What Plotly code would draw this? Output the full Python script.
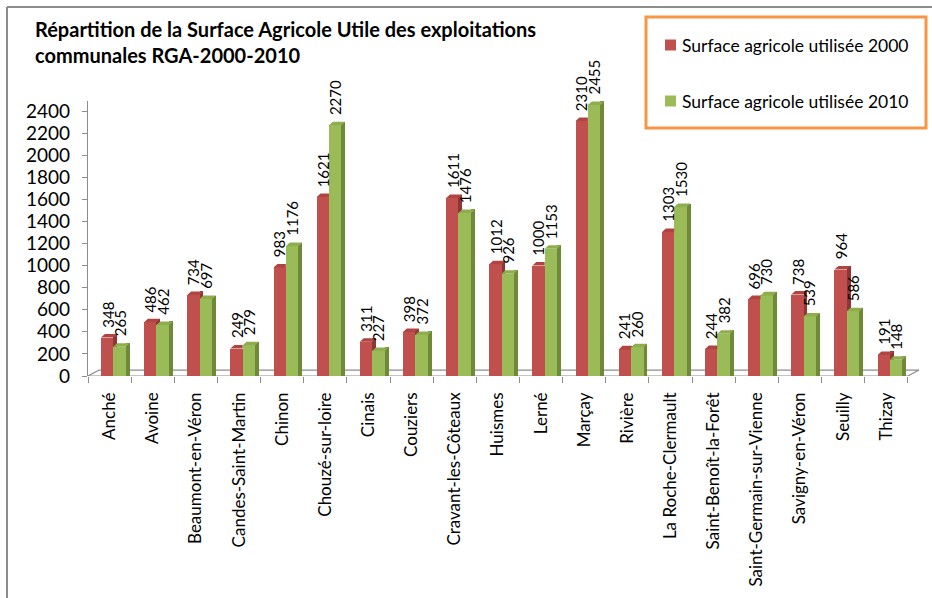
import plotly.graph_objects as go

# --- data -------------------------------------------------------------
communes = [
    "Anché", "Avoine", "Beaumont-en-Véron", "Candes-Saint-Martin", "Chinon",
    "Chouzé-sur-loire", "Cinais", "Couziers", "Cravant-les-Côteaux", "Huismes",
    "Lerné", "Marçay", "Rivière", "La Roche-Clermault", "Saint-Benoît-la-Forêt",
    "Saint-Germain-sur-Vienne", "Savigny-en-Véron", "Seuilly", "Thizay",
]
sau_2000 = [348, 486, 734, 249, 983, 1621, 311, 398, 1611, 1012,
            1000, 2310, 241, 1303, 244, 696, 738, 964, 191]
sau_2010 = [265, 462, 697, 279, 1176, 2270, 227, 372, 1476, 926,
            1153, 2455, 260, 1530, 382, 730, 539, 586, 148]
series_names = ["Surface agricole utilisée 2000", "Surface agricole utilisée 2010"]
title_lines = ["Répartition de la Surface Agricole Utile des exploitations",
               "communales RGA-2000-2010"]

# --- geometry / style ---------------------------------------------------
FIG_W, FIG_H = 932, 598
M_L, M_R, M_T, M_B = 88, 13, 101, 222
PLOT_W = FIG_W - M_L - M_R
PLOT_H = FIG_H - M_T - M_B
Y_MAX = 2490.6
X_MIN, X_MAX = -0.5, 18.76

FONT = "Lato, 'Open Sans', sans-serif"
RED, RED_SIDE, RED_TOP = "#C0504D", "#8E3633", "#B04441"
GRN, GRN_SIDE, GRN_TOP = "#9BBB59", "#6E8A38", "#8EAE4E"
AXIS_GREY = "#8C8C8C"

# bar layout within a category (in category units)
R0, R1, G1 = -0.20, 0.085, 0.375   # red front: R0..R1, green front: R1..G1
DX, DY = 0.09, 32                   # 3-D depth (x units, y units)
FLOOR_DX, FLOOR_DY = 0.26, 54

idx = list(range(len(communes)))


def px_x(px):
    return (px - M_L) / PLOT_W


def px_y(py):
    return (FIG_H - M_B - py) / PLOT_H


fig = go.Figure()

# side faces (drawn first so the next front covers them)
def side_bar(vals, x_left, color):
    return go.Bar(x=idx, y=[v + DY for v in vals], offset=x_left, width=DX,
                  marker=dict(color=color, line=dict(width=0)),
                  showlegend=False, hoverinfo="skip")


def front_bar(vals, x_left, w, color, name):
    return go.Bar(x=idx, y=vals, offset=x_left, width=w, name=name,
                  marker=dict(color=color, line=dict(width=0)),
                  showlegend=False)


fig.add_trace(side_bar(sau_2000, R1, RED_SIDE))
fig.add_trace(front_bar(sau_2000, R0, R1 - R0, RED, series_names[0]))
fig.add_trace(side_bar(sau_2010, G1, GRN_SIDE))
fig.add_trace(front_bar(sau_2010, R1, G1 - R1, GRN, series_names[1]))

# top faces (parallelograms)
red_tx, red_ty, grn_tx, grn_ty = [], [], [], []
for i, (a, b) in enumerate(zip(sau_2000, sau_2010)):
    x0, x1 = i + R0, i + R1
    if b > a:
        # the green bar hides the right end of the red top
        red_tx += [x0, x1, x1, x0 + DX, x0, None]
        red_ty += [a, a, a + DY, a + DY, a, None]
    else:
        red_tx += [x0, x1, x1 + DX, x0 + DX, x0, None]
        red_ty += [a, a, a + DY, a + DY, a, None]
    g0, g1 = i + R1, i + G1
    grn_tx += [g0, g1, g1 + DX, g0 + DX, g0, None]
    grn_ty += [b, b, b + DY, b + DY, b, None]

for tx, ty, col in [(red_tx, red_ty, RED_TOP), (grn_tx, grn_ty, GRN_TOP)]:
    fig.add_trace(go.Scatter(x=tx, y=ty, fill="toself", fillcolor=col,
                             mode="lines", line=dict(width=0, color=col),
                             showlegend=False, hoverinfo="skip"))

# value labels
annotations = []
for i, (a, b) in enumerate(zip(sau_2000, sau_2010)):
    for v, xc in [(a, i + (R0 + R1) / 2), (b, i + (R1 + G1) / 2)]:
        annotations.append(dict(x=xc, y=v, xref="x", yref="y", text=str(v),
                                textangle=-90, showarrow=False,
                                xanchor="center", yanchor="bottom", yshift=8,
                                font=dict(family=FONT, size=15, color="#000")))

# title
for k, line in enumerate(title_lines):
    annotations.append(dict(x=px_x(33), y=px_y(29 + 26 * k), xref="paper", yref="paper",
                            text=f"<b>{line}</b>", showarrow=False,
                            xanchor="left", yanchor="middle",
                            font=dict(family=FONT, size=20, color="#000")))

# legend text
legend_rows = [(45, RED), (101, GRN)]
shapes = []
for (yc, col), name in zip(legend_rows, series_names):
    annotations.append(dict(x=px_x(680), y=px_y(yc), xref="paper", yref="paper",
                            text=name, showarrow=False, xanchor="left", yanchor="middle",
                            font=dict(family=FONT, size=17.5, color="#000")))
    shapes.append(dict(type="rect", xref="paper", yref="paper",
                       x0=px_x(665), x1=px_x(676), y0=px_y(yc - 5.5), y1=px_y(yc + 5.5),
                       fillcolor=col, line=dict(width=0)))

# legend box
shapes.insert(0, dict(type="rect", xref="paper", yref="paper",
                      x0=px_x(646), x1=px_x(926), y0=px_y(128), y1=px_y(17),
                      fillcolor="white", line=dict(color="#F79646", width=3), layer="below"))

# outer frame (top and left edges)
shapes.append(dict(type="line", xref="paper", yref="paper",
                   x0=px_x(7), x1=px_x(FIG_W + 5), y0=px_y(7), y1=px_y(7),
                   line=dict(color=AXIS_GREY, width=2)))
shapes.append(dict(type="line", xref="paper", yref="paper",
                   x0=px_x(7), x1=px_x(7), y0=px_y(7), y1=px_y(FIG_H + 5),
                   line=dict(color=AXIS_GREY, width=2)))

# floor of the 3-D chart
n = len(communes)
floor_pts = [(X_MIN, 0), (n - 0.5, 0), (n - 0.5 + FLOOR_DX, FLOOR_DY),
             (X_MIN + FLOOR_DX, FLOOR_DY), (X_MIN, 0)]
for (xa, ya), (xb, yb) in zip(floor_pts[:-1], floor_pts[1:]):
    shapes.append(dict(type="line", xref="x", yref="y", x0=xa, y0=ya, x1=xb, y1=yb,
                       line=dict(color=AXIS_GREY, width=1.2), layer="below"))

fig.update_layout(
    width=FIG_W, height=FIG_H,
    margin=dict(l=M_L, r=M_R, t=M_T, b=M_B, pad=0, autoexpand=False),
    paper_bgcolor="white", plot_bgcolor="white",
    barmode="overlay", bargap=0,
    showlegend=False,
    annotations=annotations, shapes=shapes,
    font=dict(family=FONT, color="#000"),
    xaxis=dict(range=[X_MIN, X_MAX], tickmode="array", tickvals=idx, ticktext=communes,
               tickangle=-90, ticks="", showline=False, showgrid=False, zeroline=False,
               ticklabelstandoff=12, automargin=False,
               tickfont=dict(family=FONT, size=17, color="#000"),
               minor=dict(tick0=0.5, dtick=1, ticks="outside", ticklen=6,
                          tickcolor=AXIS_GREY, tickwidth=1.2, showgrid=False)),
    yaxis=dict(range=[0, Y_MAX], dtick=200, tick0=0, ticks="outside", ticklen=5,
               tickcolor=AXIS_GREY, tickwidth=1.2, showline=True, linecolor=AXIS_GREY,
               linewidth=1.2, showgrid=False, zeroline=False, ticklabelstandoff=8,
               automargin=False,
               tickfont=dict(family=FONT, size=19, color="#000")),
)

fig.write_html("out.html")
